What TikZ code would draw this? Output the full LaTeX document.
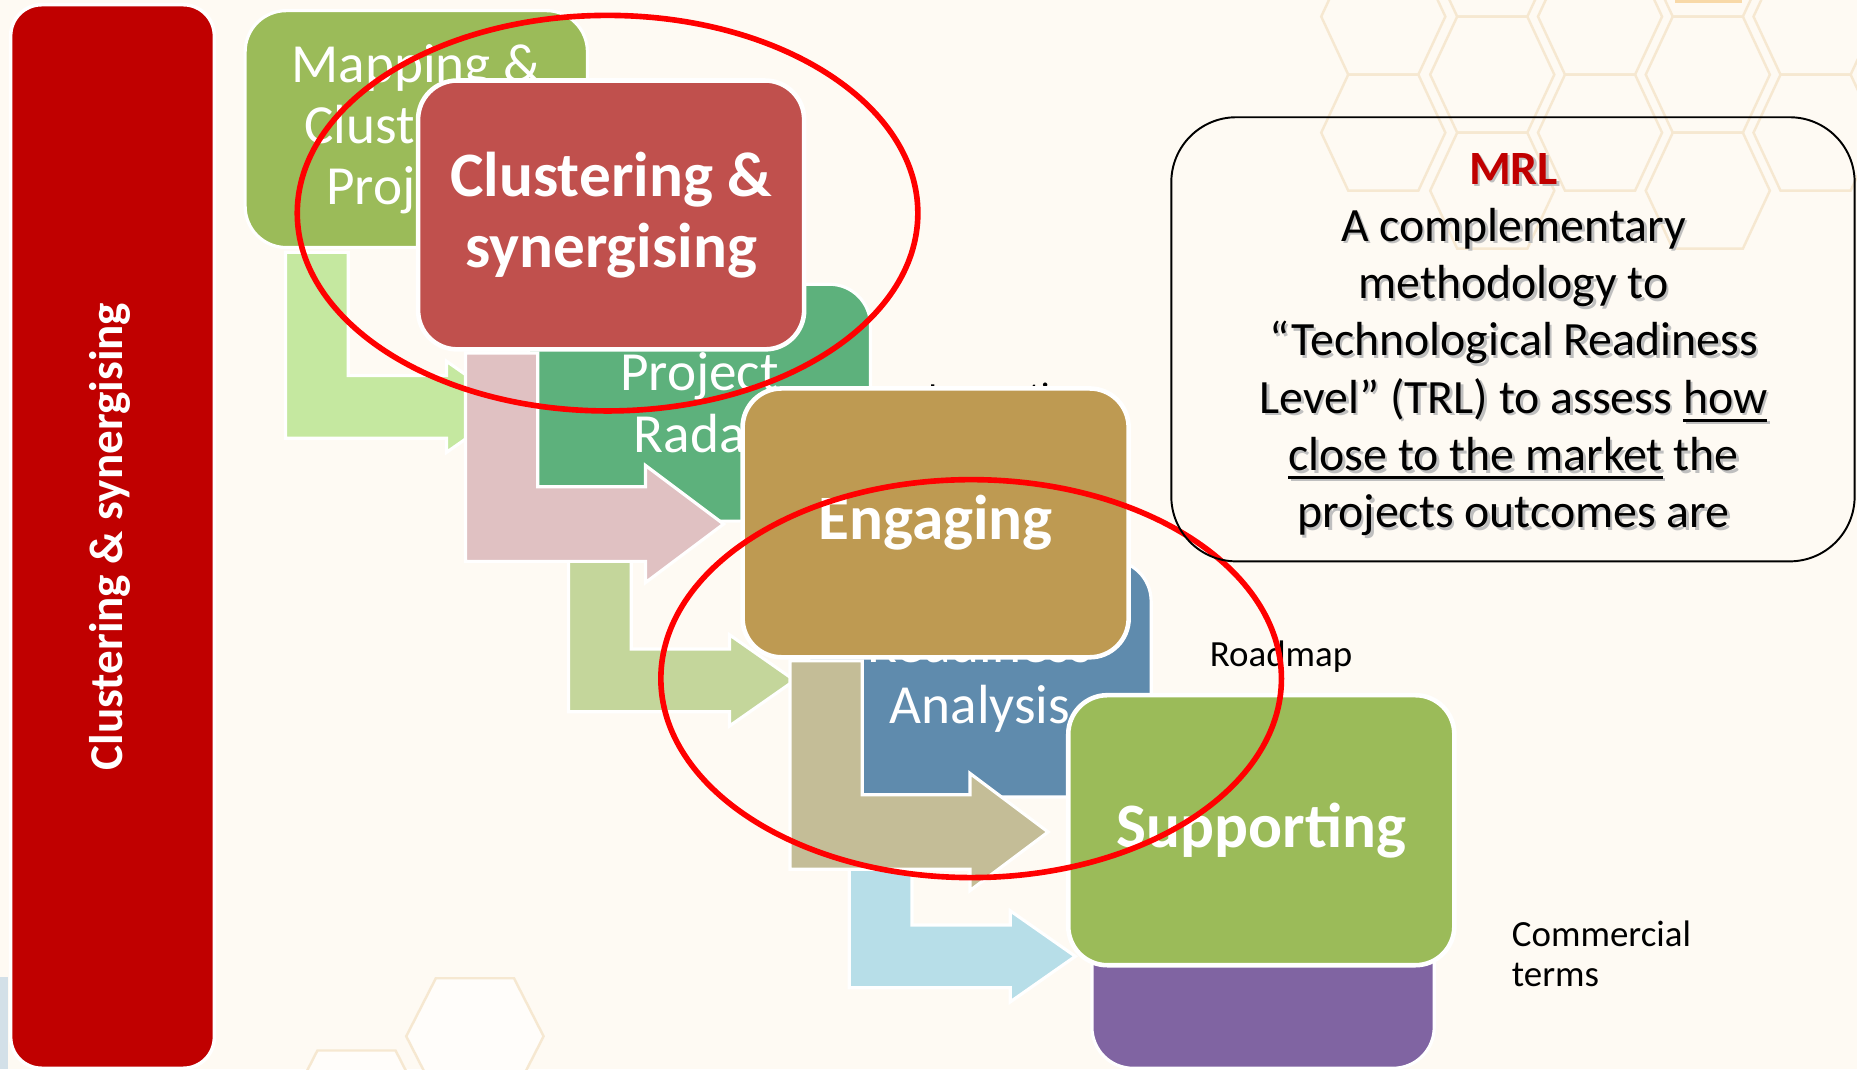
\documentclass[tikz,border=0pt]{standalone}
\usepackage{fontspec}
\setmainfont{Carlito}
\usepackage{xcolor}
\usepackage{tikz}
\definecolor{bgcream}{HTML}{FEFAF3}
\definecolor{hexline}{HTML}{F6E8D1}
\definecolor{barred}{HTML}{C00000}
\definecolor{greena}{HTML}{9BBB59}
\definecolor{greenb}{HTML}{5DB17C}
\definecolor{bluea}{HTML}{5F8BAD}
\definecolor{purplea}{HTML}{8064A2}
\definecolor{arrlgreen}{HTML}{C5E8A0}
\definecolor{arrolive}{HTML}{C4D69B}
\definecolor{arrlblue}{HTML}{B7DEE8}
\definecolor{ovred}{HTML}{C0504D}
\definecolor{ovbrown}{HTML}{BE9A52}
\definecolor{arrpink}{HTML}{E0C1C2}
\definecolor{arrtan}{HTML}{C4BD97}
\definecolor{sliver}{HTML}{D3E0E8}
\definecolor{peach}{HTML}{F8D9A8}
\newcommand{\shad}[1]{\makebox[0pt][l]{\hspace{0.7pt}\raisebox{-0.7pt}{\color{black!25}#1}}#1}
\newsavebox{\ulbox}
\newcommand{\ulx}[1]{\sbox{\ulbox}{#1}\rlap{\rule[-2.4pt]{\wd\ulbox}{0.9pt}}\usebox{\ulbox}}

\begin{document}
\begin{tikzpicture}[x=0.011843cm, y=-0.011843cm,
	stepbox/.style={draw=white, line width=0.9pt, rounded corners=0.41cm},
	bentarrow/.style={draw=white, line width=0.9pt},
	bigbox/.style={draw=white, line width=1.3pt, rounded corners=0.39cm},
	boxtxt/.style={text=white, align=center, inner sep=0, font=\fontsize{15.7}{17.4}\selectfont},
	bigtxt/.style={text=white, align=center, inner sep=0, font=\bfseries\fontsize{18}{20.2}\selectfont},
	sidetxt/.style={align=left, inner sep=0, anchor=base west, font=\fontsize{10.5}{11.5}\selectfont},
	ring/.style={draw=red, line width=1.6pt},
	hexcell/.style={draw=hexline, line width=0.7pt}]
\useasboundingbox (0,0) rectangle (1568,903);
\clip (0,0) rectangle (1568,903);
\fill[bgcream] (0,0) rectangle (1568,903);
\foreach \hx/\hy in {1168/14,1168/112,1260/-35,1260/63,1260/161,1351/14,1351/112,1442/-35,1442/63,1442/161,1533/14,1533/112} {
	\draw[hexcell, shift={(\hx,\hy)}] (52.4,0) -- (29.6,-49) -- (-29.6,-49) -- (-52.4,0) -- (-29.6,49) -- (29.6,49) -- cycle;
};
\foreach \hx/\hy in {401/875,301/936} {
	\filldraw[hexcell, fill=white!60!bgcream, shift={(\hx,\hy)}] (58,0) -- (33,-49) -- (-33,-49) -- (-58,0) -- (-33,49) -- (33,49) -- cycle;
};
\fill[sliver] (0,825) rectangle (7,903);
\fill[peach] (1414,0) rectangle (1471,2.5);
\filldraw[fill=barred, draw=white, line width=1pt, rounded corners=0.31cm] (9,4) rectangle (181,902);
\node[rotate=90, text=white, inner sep=0, font=\bfseries\fontsize{13.4}{16}\selectfont] (vtitle) at (93,453) {Clustering \& synergising};
\foreach \l/\t/\c/\a/\n/\s in {207/9/greena/arrlgreen/map/{Mapping \&\\Clustering\\Projects},446/240/greenb/arrolive/radar/{Project\\Radar},683/473/bluea/arrlblue/ready/{Readiness\\Analysis}} {
	\filldraw[fill=\c, stepbox] (\l,\t) rectangle ++(289,200);
	\node[boxtxt] (\n) at ({\l+144.5},{\t+100}) {\s};
	\filldraw[fill=\a, bentarrow, shift={(\l,\t)}] (34,204) -- (87,204) -- (87,308) -- (170,308) -- (170,296) -- (225,334.5) -- (170,373) -- (170,361) -- (34,361) -- cycle;
};
\filldraw[fill=purplea, stepbox] (922,702) rectangle ++(289,200);
\foreach \x/\y/\n/\s in {783/345/innov/Innovation,1021/563/road/Roadmap,1276/833/comm/{Commercial\\terms}} {
	\node[sidetxt] (\n) at (\x,\y) {\s};
};
\foreach \l/\t/\c/\a/\n/\s in {353/68/ovred/arrpink/clus/{Clustering \&\\synergising},627/328/ovbrown/arrtan/eng/Engaging} {
	\filldraw[fill=\c, bigbox] (\l,\t) rectangle ++(326,227);
	\node[bigtxt] (\n) at ({\l+163},{\t+113.5}) {\s};
	\filldraw[fill=\a, bentarrow, shift={(\l,\t)}] (40,230) -- (101,230) -- (101,343) -- (192,343) -- (192,325) -- (258,374.5) -- (192,424) -- (192,406) -- (40,406) -- cycle;
};
\filldraw[fill=greena, bigbox] (902,587) rectangle ++(326,228);
\node[bigtxt] (sup) at (1065,701) {Supporting};
\draw[ring] (513,180) ellipse [x radius=262, y radius=167];
\draw[ring] (820,573) ellipse [x radius=262, y radius=168];
\draw[black, line width=0.55pt, rounded corners=0.65cm] (989,99) rectangle (1566,474);
\node[align=center, inner sep=0, font=\fontsize{13.6}{16.3}\selectfont] (mrl) at (1278,292) {{\color{barred}\bfseries\shad{MRL}}\\
	\shad{A complementary}\\
	\shad{methodology to}\\
	\shad{“Technological Readiness}\\
	\shad{Level” (TRL) to assess \ulx{how}}\\
	\shad{\ulx{close to the market} the}\\
	\shad{projects outcomes are}};
\end{tikzpicture}
\end{document}
